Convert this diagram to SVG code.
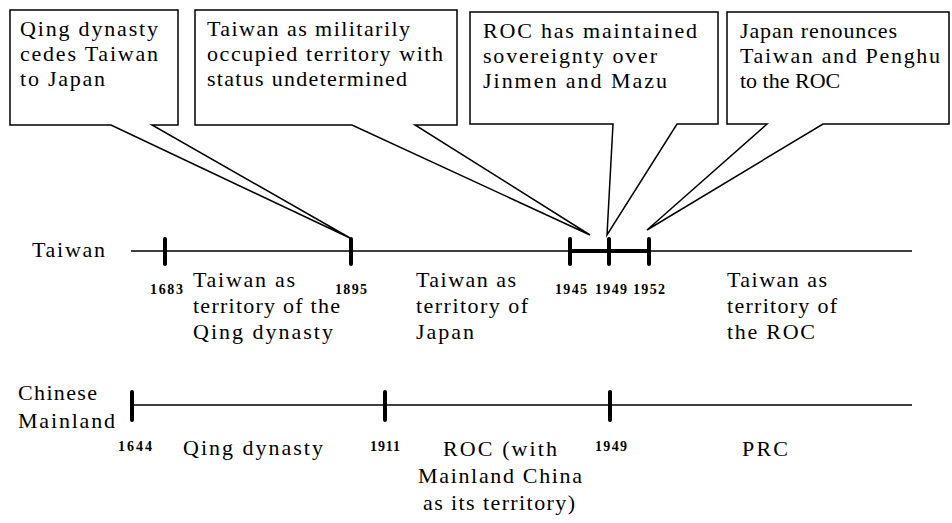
<svg xmlns="http://www.w3.org/2000/svg" width="952" height="523" viewBox="0 0 952 523">
<style>
.t{font-family:"Liberation Serif","Times New Roman",serif;font-size:22px;fill:#000}
.y{font-family:"Liberation Serif","Times New Roman",serif;font-weight:bold;font-size:14px;fill:#000}
.box{fill:none;stroke:#000;stroke-width:1.5;stroke-linejoin:miter}
.axis{stroke:#000;stroke-width:1.6;fill:none}
.tick{stroke:#000;stroke-width:4;stroke-linecap:round}
</style>
<rect width="952" height="523" fill="#fff"/>

<g id="connectors">
  <path class="box" d="M152,125 L178,125 L178,10 L10,10 L10,125 L111,125 L350,238 Z"/>
  <path class="box" d="M415,125 L457,125 L457,10 L195,10 L195,125 L352,125 L590,235 Z"/>
  <path class="box" d="M677,124 L718,124 L718,12 L470,12 L470,124 L613,124 L607,235 Z"/>
  <path class="box" d="M823,124 L949,124 L949,12 L727,12 L727,124 L767,124 L647,230 Z"/>
</g>

<g id="callout-1895">
  <text class="t" x="20" y="36" textLength="138" lengthAdjust="spacing">Qing dynasty</text>
  <text class="t" x="20" y="61" textLength="138" lengthAdjust="spacing">cedes Taiwan</text>
  <text class="t" x="20" y="86" textLength="85" lengthAdjust="spacing">to Japan</text>
</g>
<g id="callout-1945">
  <text class="t" x="207" y="36" textLength="203" lengthAdjust="spacing">Taiwan as militarily</text>
  <text class="t" x="207" y="61" textLength="236" lengthAdjust="spacing">occupied territory with</text>
  <text class="t" x="207" y="86" textLength="200" lengthAdjust="spacing">status undetermined</text>
</g>
<g id="callout-1949">
  <text class="t" x="483" y="38" textLength="214" lengthAdjust="spacing">ROC has maintained</text>
  <text class="t" x="483" y="63" textLength="174" lengthAdjust="spacing">sovereignty over</text>
  <text class="t" x="483" y="88" textLength="184" lengthAdjust="spacing">Jinmen and Mazu</text>
</g>
<g id="callout-1952">
  <text class="t" x="740" y="38" textLength="157" lengthAdjust="spacing">Japan renounces</text>
  <text class="t" x="740" y="63" textLength="200" lengthAdjust="spacing">Taiwan and Penghu</text>
  <text class="t" x="740" y="88">to the ROC</text>
</g>

<g id="taiwan-timeline">
  <text class="t" x="32" y="257" textLength="73" lengthAdjust="spacing">Taiwan</text>
  <line class="axis" x1="131" y1="251" x2="912" y2="251"/>
  <line x1="570" y1="251" x2="649" y2="251" stroke="#000" stroke-width="4"/>
  <line class="tick" x1="165" y1="239" x2="165" y2="264"/>
  <line class="tick" x1="351" y1="239" x2="351" y2="264"/>
  <line class="tick" x1="570" y1="239" x2="570" y2="264"/>
  <line class="tick" x1="609" y1="239" x2="609" y2="264"/>
  <line class="tick" x1="649" y1="239" x2="649" y2="264"/>
  <text class="y" x="150" y="294" textLength="33" lengthAdjust="spacing">1683</text>
  <text class="y" x="335" y="294" textLength="32" lengthAdjust="spacing">1895</text>
  <text class="y" x="555" y="294" textLength="32" lengthAdjust="spacing">1945</text>
  <text class="y" x="595" y="294" textLength="32" lengthAdjust="spacing">1949</text>
  <text class="y" x="633" y="294" textLength="32" lengthAdjust="spacing">1952</text>
</g>

<g id="period-qing-taiwan">
  <text class="t" x="193" y="287" textLength="102" lengthAdjust="spacing">Taiwan as</text>
  <text class="t" x="193" y="313" textLength="147" lengthAdjust="spacing">territory of the</text>
  <text class="t" x="193" y="339" textLength="140" lengthAdjust="spacing">Qing dynasty</text>
</g>
<g id="period-japan">
  <text class="t" x="416" y="287" textLength="100" lengthAdjust="spacing">Taiwan as</text>
  <text class="t" x="416" y="313" textLength="112" lengthAdjust="spacing">territory of</text>
  <text class="t" x="416" y="339" textLength="58" lengthAdjust="spacing">Japan</text>
</g>
<g id="period-roc-taiwan">
  <text class="t" x="727" y="287" textLength="100" lengthAdjust="spacing">Taiwan as</text>
  <text class="t" x="727" y="313" textLength="110" lengthAdjust="spacing">territory of</text>
  <text class="t" x="727" y="339" textLength="88" lengthAdjust="spacing">the ROC</text>
</g>

<g id="mainland-timeline">
  <text class="t" x="18" y="400" textLength="79" lengthAdjust="spacing">Chinese</text>
  <text class="t" x="18" y="428" textLength="97" lengthAdjust="spacing">Mainland</text>
  <line class="axis" x1="131" y1="405" x2="912" y2="405"/>
  <line class="tick" x1="132" y1="392" x2="132" y2="420"/>
  <line class="tick" x1="385" y1="392" x2="385" y2="420"/>
  <line class="tick" x1="610" y1="392" x2="610" y2="420"/>
  <text class="y" x="118" y="451" textLength="34" lengthAdjust="spacing">1644</text>
  <text class="y" x="370" y="451" textLength="30" lengthAdjust="spacing">1911</text>
  <text class="y" x="595" y="451" textLength="32" lengthAdjust="spacing">1949</text>
</g>

<g id="period-qing-mainland">
  <text class="t" x="183" y="455" textLength="140" lengthAdjust="spacing">Qing dynasty</text>
</g>
<g id="period-roc-mainland">
  <text class="t" x="443" y="456" textLength="114" lengthAdjust="spacing">ROC (with</text>
  <text class="t" x="418" y="483" textLength="164" lengthAdjust="spacing">Mainland China</text>
  <text class="t" x="423" y="510" textLength="152" lengthAdjust="spacing">as its territory)</text>
</g>
<g id="period-prc">
  <text class="t" x="742" y="456" textLength="46" lengthAdjust="spacing">PRC</text>
</g>
</svg>
